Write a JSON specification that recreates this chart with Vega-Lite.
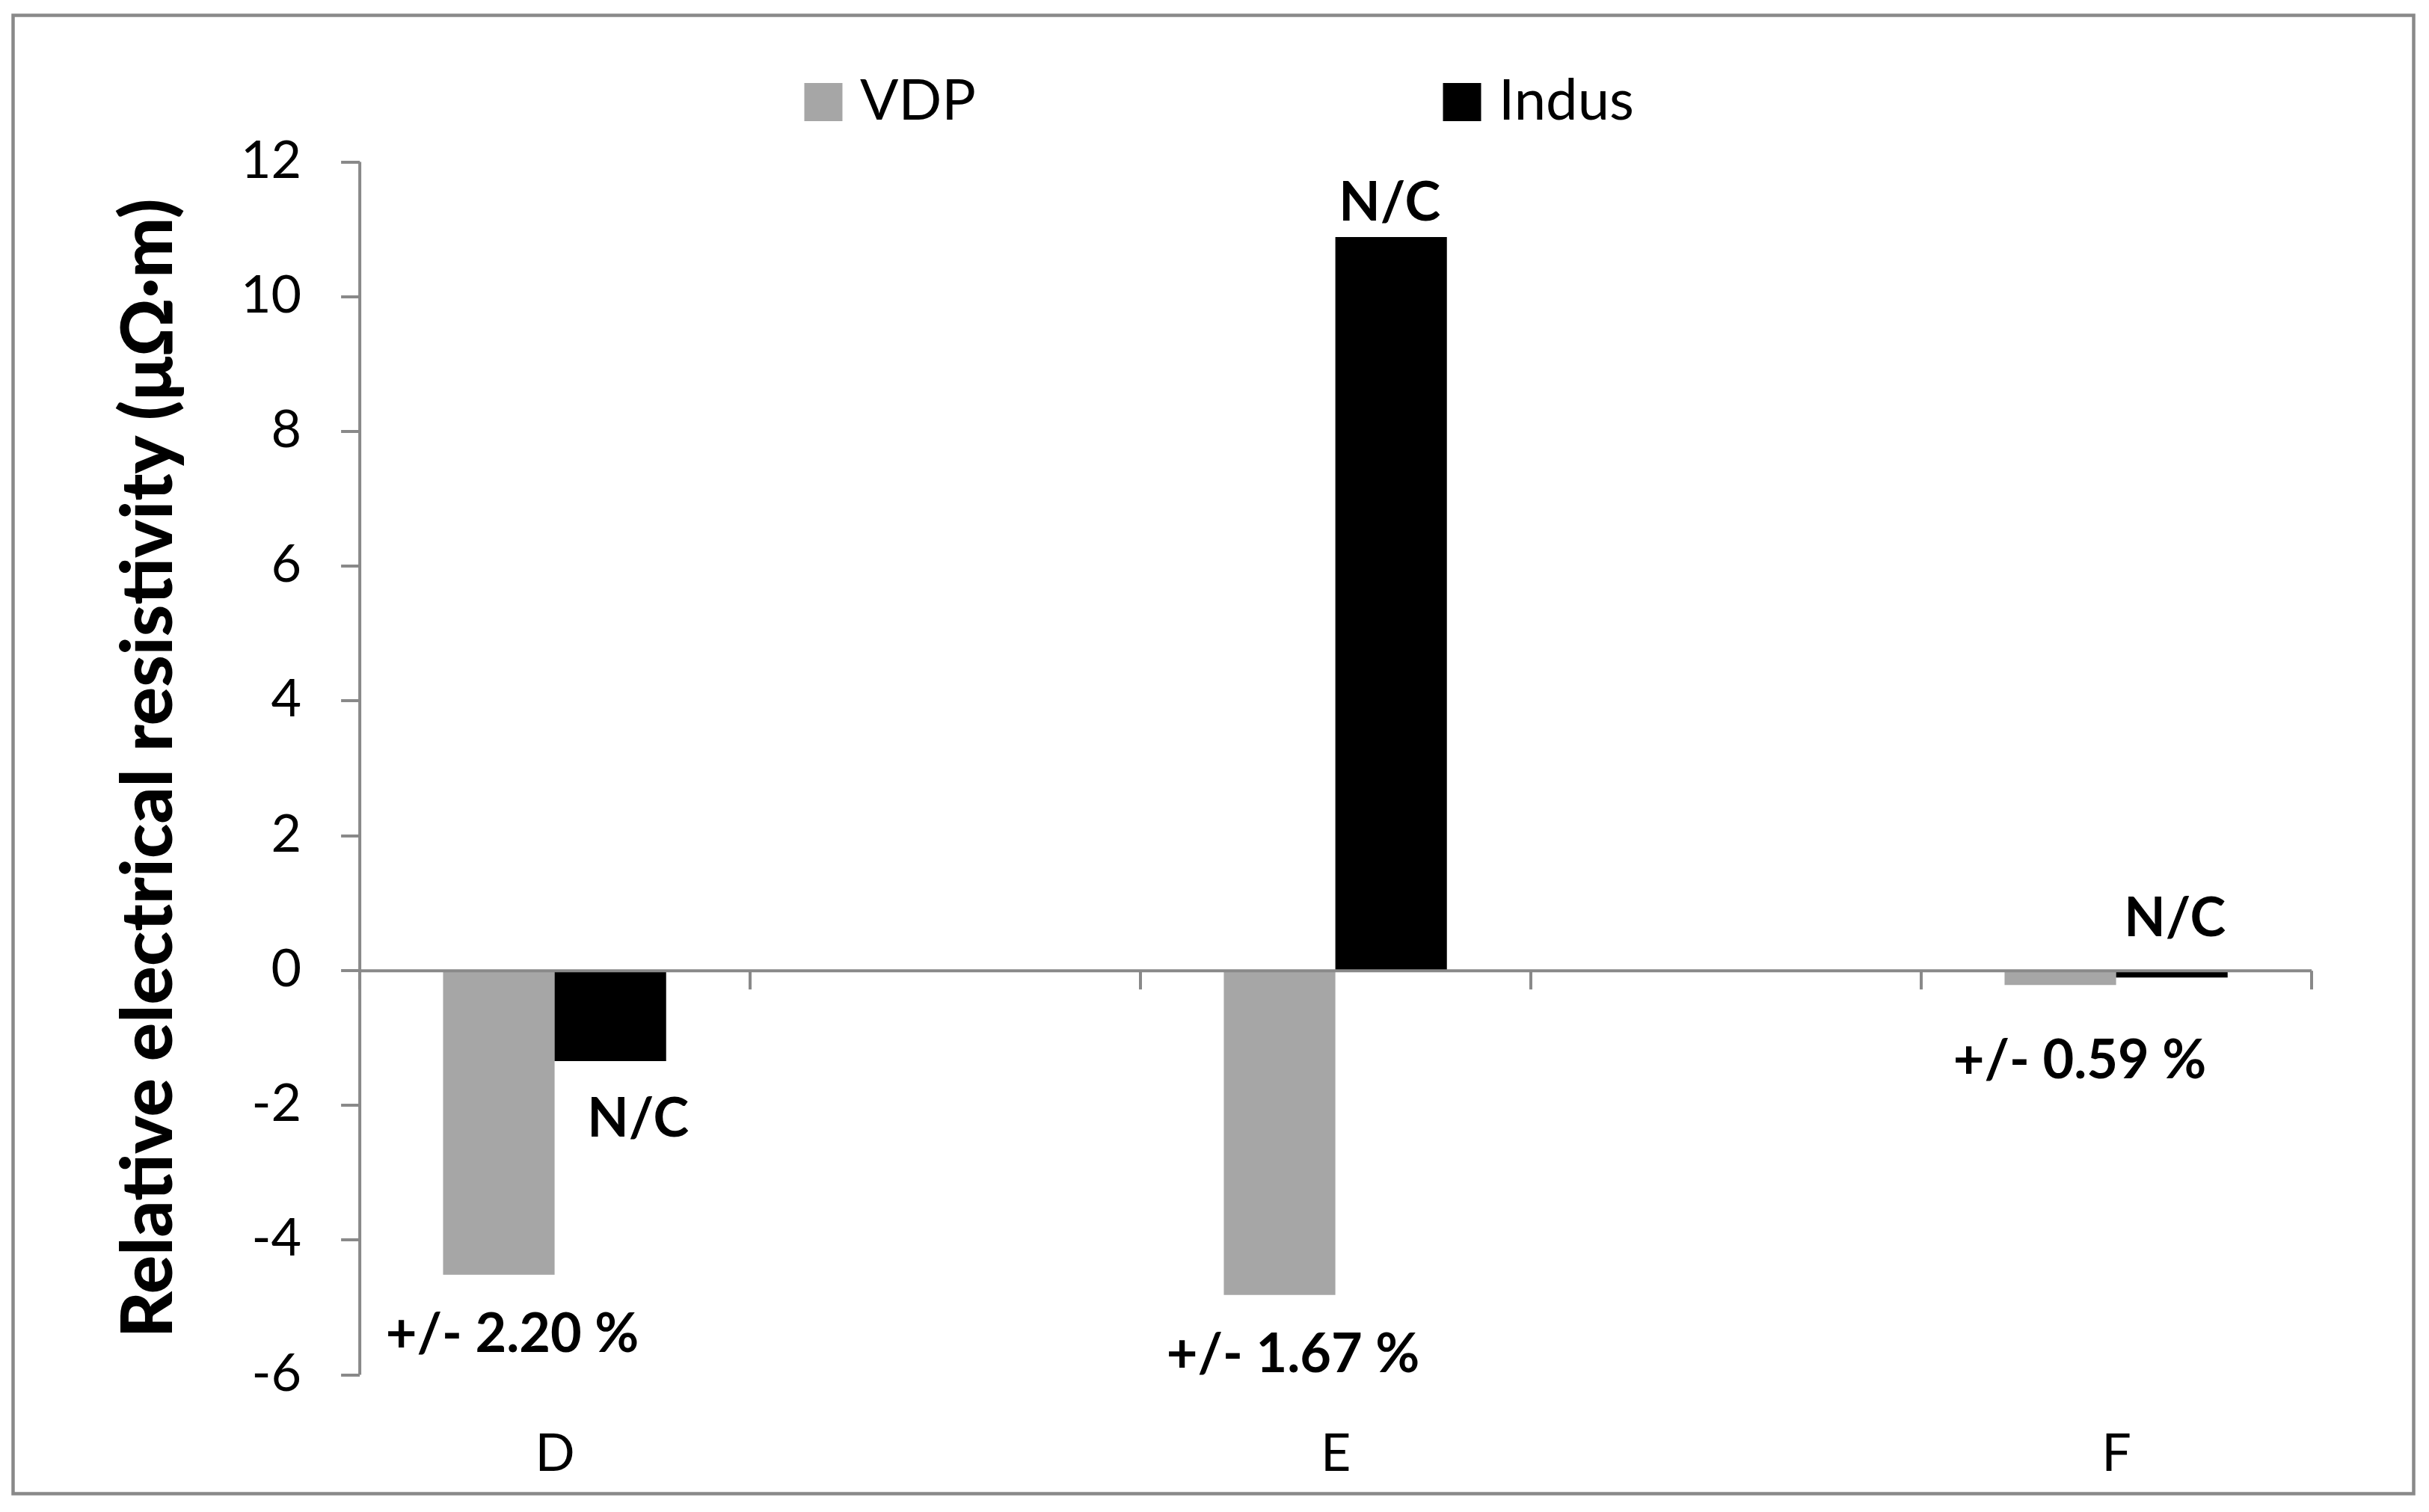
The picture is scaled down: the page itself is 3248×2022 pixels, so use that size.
{
  "$schema": "https://vega.github.io/schema/vega-lite/v6.json",
  "autosize": {"type": "none"},
  "padding": {"left": 17.5, "top": 20.5, "right": 20.5, "bottom": 24.5},
  "width": 3210,
  "height": 1977,
  "background": "white",
  "config": {
    "view": {"stroke": "#898989", "strokeWidth": 4.5, "fill": "white"},
    "font": "Lato"
  },
  "data": {
    "values": [
      {"cat": "D", "series": "VDP", "value": -4.52, "label": "+/- 2.20 %"},
      {"cat": "D", "series": "Indus", "value": -1.35, "label": "N/C"},
      {"cat": "E", "series": "VDP", "value": -4.82, "label": "+/- 1.67 %"},
      {"cat": "E", "series": "Indus", "value": 10.88, "label": "N/C"},
      {"cat": "F", "series": "VDP", "value": -0.22, "label": "+/- 0.59 %"},
      {"cat": "F", "series": "Indus", "value": -0.11, "label": "N/C"}
    ]
  },
  "encoding": {
    "x": {
      "field": "cat",
      "type": "nominal",
      "scale": {"domain": ["D", "g1", "E", "g2", "F"], "range": [463.1, 3073.1], "paddingInner": 0, "paddingOuter": 0},
      "axis": {
        "orient": "bottom",
        "offset": -699.8,
        "title": null,
        "domain": true,
        "domainColor": "#898989",
        "domainWidth": 4,
        "ticks": true,
        "tickBand": "extent",
        "tickSize": 25,
        "tickWidth": 4,
        "tickColor": "#898989",
        "labelPadding": 589,
        "labelAngle": 0,
        "labelFont": "Lato",
        "labelFontSize": 70,
        "labelColor": "#000000",
        "labelExpr": "datum.value == 'g1' || datum.value == 'g2' ? '' : datum.value",
        "grid": false,
        "zindex": 1
      }
    },
    "xOffset": {
      "field": "series",
      "type": "nominal",
      "scale": {"domain": ["VDP", "Indus"], "paddingInner": 0, "paddingOuter": 0.75}
    },
    "y": {
      "field": "value",
      "type": "quantitative",
      "scale": {"domain": [-6, 12], "range": [1817.5, 195.5], "nice": false, "zero": false},
      "axis": {
        "orient": "left",
        "offset": -463.1,
        "values": [-6, -4, -2, 0, 2, 4, 6, 8, 10, 12],
        "labelExpr": "'' + datum.value",
        "grid": false,
        "domainColor": "#898989",
        "domainWidth": 4,
        "tickSize": 25,
        "tickWidth": 4,
        "tickColor": "#898989",
        "labelPadding": 53,
        "labelFont": "Lato",
        "labelFontSize": 70,
        "labelColor": "#000000",
        "title": "Relative electrical resistivity (μΩ·m)",
        "titleFont": "Lato, Open Sans, sans-serif",
        "titleFontSize": 96,
        "titleFontWeight": 900,
        "titleColor": "#000000",
        "titlePadding": 72,
        "zindex": 1
      }
    }
  },
  "layer": [
    {
      "mark": {"type": "bar"},
      "encoding": {
        "color": {
          "field": "series",
          "type": "nominal",
          "scale": {"domain": ["VDP", "Indus"], "range": ["#A6A6A6", "#000000"]},
          "legend": {
            "title": null,
            "orient": "none",
            "direction": "horizontal",
            "legendX": 1045.5,
            "legendY": 78,
            "padding": 0,
            "symbolType": "square",
            "symbolSize": 2600,
            "symbolStrokeWidth": 0,
            "labelFont": "Lato",
            "labelFontSize": 76,
            "labelColor": "#000000",
            "labelOffset": 11,
            "labelLimit": 600,
            "columnPadding": 612
          }
        }
      }
    },
    {
      "transform": [{"filter": "datum.series == 'VDP' && datum.cat != 'F'"}],
      "mark": {"type": "text", "font": "Lato", "fontWeight": "bold", "fontSize": 72, "color": "#000000", "align": "center", "baseline": "alphabetic", "dx": 18, "dy": 103},
      "encoding": {"text": {"field": "label"}}
    },
    {
      "transform": [{"filter": "datum.series == 'VDP' && datum.cat == 'F'"}],
      "mark": {"type": "text", "font": "Lato", "fontWeight": "bold", "fontSize": 72, "color": "#000000", "align": "center", "baseline": "alphabetic", "dx": 26, "dy": 125},
      "encoding": {"text": {"field": "label"}}
    },
    {
      "transform": [{"filter": "datum.series == 'Indus' && datum.cat == 'D'"}],
      "mark": {"type": "text", "font": "Lato", "fontWeight": "bold", "fontSize": 72, "color": "#000000", "align": "center", "baseline": "top", "dx": 37, "dy": 44},
      "encoding": {"text": {"field": "label"}}
    },
    {
      "transform": [{"filter": "datum.series == 'Indus' && datum.cat == 'E'"}],
      "mark": {"type": "text", "font": "Lato", "fontWeight": "bold", "fontSize": 72, "color": "#000000", "align": "center", "baseline": "alphabetic", "dx": -2, "dy": -22},
      "encoding": {"text": {"field": "label"}}
    },
    {
      "transform": [{"filter": "datum.series == 'Indus' && datum.cat == 'F'"}],
      "mark": {"type": "text", "font": "Lato", "fontWeight": "bold", "fontSize": 72, "color": "#000000", "align": "center", "baseline": "alphabetic", "dx": 4, "dy": -55},
      "encoding": {"text": {"field": "label"}}
    }
  ]
}
